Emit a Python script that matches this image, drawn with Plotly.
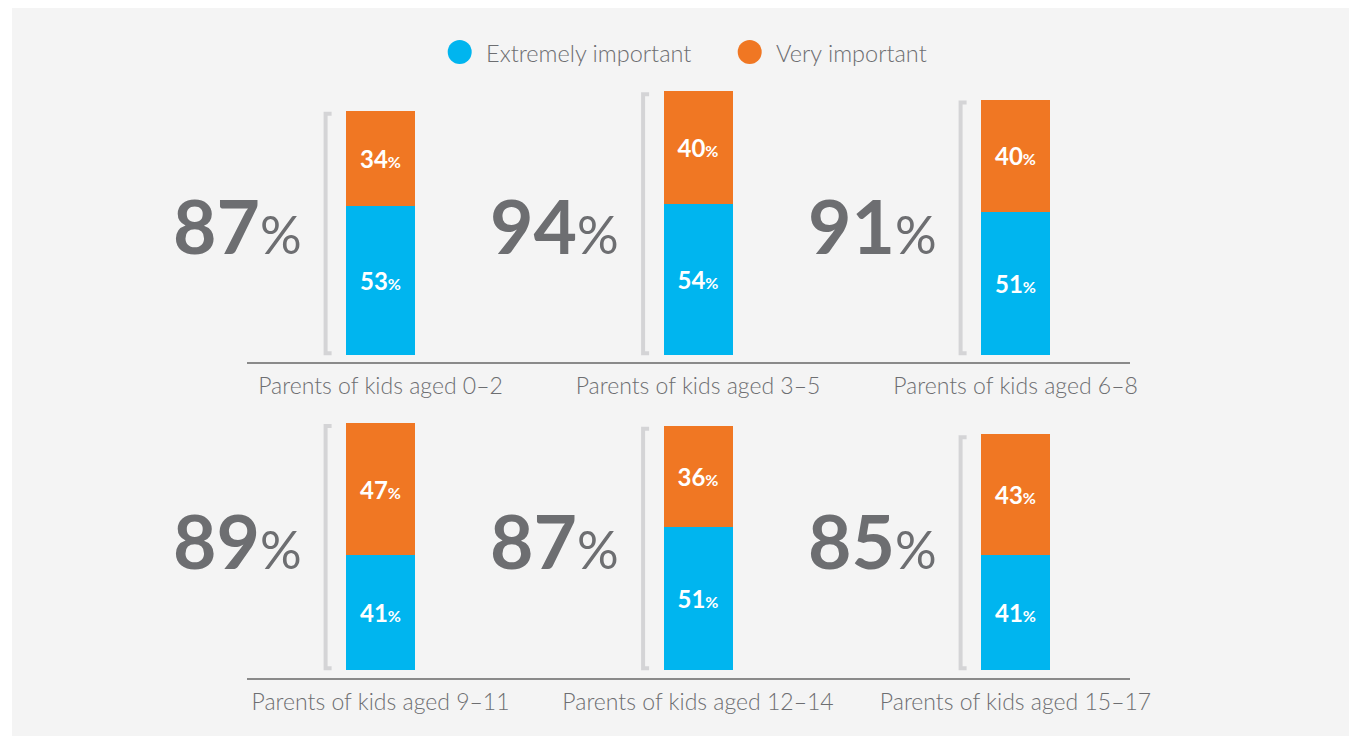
import plotly.graph_objects as go

# ---- data ----
categories = ["Parents of kids aged 0\u20132", "Parents of kids aged 3\u20135", "Parents of kids aged 6\u20138",
              "Parents of kids aged 9\u201311", "Parents of kids aged 12\u201314", "Parents of kids aged 15\u201317"]
extremely = [53, 54, 51, 41, 51, 41]
very = [34, 40, 40, 47, 36, 43]
totals = [87, 94, 91, 89, 87, 85]
series_names = ["Extremely important", "Very important"]

BLUE = "#00b5ef"
ORANGE = "#f07723"
GRAY_TXT = "#6d6e71"
BRACKET = "#d4d4d6"
FONT = "Lato"

W, H = 1353, 741


def fx(p):
    return p / W


def fy(p):
    return 1 - p / H


fig = go.Figure()

rows = [(0, 3, "x", "y"), (3, 6, "x2", "y2")]
pos = [0, 1, 2]
bar_w = 0.2173
br_off = -0.173
br_tick = 0.019
seg_tmpl = "<b>%{y}<span style='font-size:16px'>%</span></b>"
for (a, b, xa, ya) in rows:
    ex = extremely[a:b]
    vy = very[a:b]
    for vals, col, nm in [(ex, BLUE, series_names[0]), (vy, ORANGE, series_names[1])]:
        fig.add_trace(go.Bar(x=pos, y=vals, width=bar_w, marker=dict(color=col, line=dict(width=0)),
                             name=nm, showlegend=False, xaxis=xa, yaxis=ya,
                             texttemplate=seg_tmpl,
                             textposition="inside", insidetextanchor="middle", textangle=0,
                             insidetextfont=dict(color="white", size=24, family=FONT),
                             hoverinfo="skip"))
    # brackets and totals
    for i, p in enumerate(pos):
        top = ex[i] + vy[i] - 1
        bx = p + br_off
        fig.add_trace(go.Scatter(x=[bx + br_tick, bx, bx, bx + br_tick], y=[top, top, 0.6, 0.6],
                                 mode="lines", line=dict(color=BRACKET, width=4), showlegend=False,
                                 hoverinfo="skip", xaxis=xa, yaxis=ya))
        fig.add_annotation(x=p - 0.241, y=46.5, xref=xa, yref=ya, xanchor="right", yanchor="middle",
                           text=f"{totals[a + i]}<span style='font-size:52px;font-weight:400'>%</span>",
                           showarrow=False, font=dict(size=75, color=GRAY_TXT, family=FONT, weight=700))

xrange = [-0.4205, 2.3606]
xdom = [fx(247), fx(1130)]
common_x = dict(range=xrange, domain=xdom, showgrid=False, zeroline=False, showline=True,
                linecolor="#8a8a8a", linewidth=1.5, ticks="", tickvals=pos, ticklabelstandoff=3,
                automargin=False,
                tickfont=dict(size=23, color=GRAY_TXT, family=FONT, weight=300), fixedrange=True)
sc = 2.805
y1_dom = [fy(362), fy(80)]
y2_dom = [fy(678), fy(398)]
y1_lo = -7 / sc
y2_lo = -8 / sc
y1_range = [y1_lo, y1_lo + (362 - 80) / sc]
y2_range = [y2_lo, y2_lo + (678 - 398) / sc]

fig.update_layout(
    width=W, height=H, margin=dict(l=0, r=0, t=0, b=0, autoexpand=False),
    paper_bgcolor="white", plot_bgcolor="rgba(0,0,0,0)",
    barmode="stack", showlegend=False,
    xaxis=dict(common_x, ticktext=categories[0:3], anchor="y"),
    xaxis2=dict(common_x, ticktext=categories[3:6], anchor="y2"),
    yaxis=dict(range=y1_range, domain=y1_dom, visible=False, anchor="x", fixedrange=True, automargin=False),
    yaxis2=dict(range=y2_range, domain=y2_dom, visible=False, anchor="x2", fixedrange=True, automargin=False),
)

# gray background panel
fig.add_shape(type="rect", xref="paper", yref="paper", x0=fx(12), x1=fx(1349), y0=fy(736), y1=fy(8),
              fillcolor="#f4f4f4", line=dict(width=0), layer="below")

# legend (manual)
leg = [(459.7, BLUE, series_names[0], 484), (749.7, ORANGE, series_names[1], 774)]
for cx, col, name, tx in leg:
    r = 12
    fig.add_shape(type="circle", xref="paper", yref="paper",
                  x0=fx(cx - r), x1=fx(cx + r), y0=fy(52 + r), y1=fy(52 - r),
                  fillcolor=col, line=dict(width=0))
    fig.add_annotation(x=fx(tx), y=fy(53), xref="paper", yref="paper", xanchor="left", yanchor="middle",
                       text=name, showarrow=False, font=dict(size=23.5, color=GRAY_TXT, family=FONT, weight=300))

fig.write_html("out.html", config={"displayModeBar": False},
               post_script="document.body.style.margin='0';document.documentElement.style.overflow='hidden';")
